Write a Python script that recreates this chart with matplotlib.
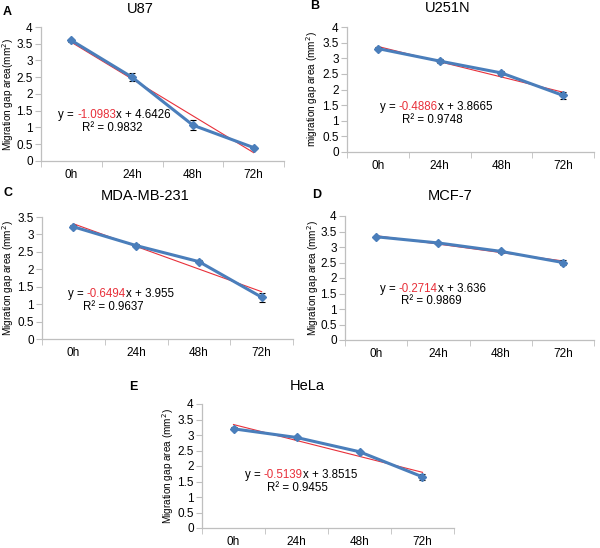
import matplotlib
matplotlib.use("Agg")
import matplotlib.pyplot as plt
import matplotlib.transforms as mtransforms
import numpy as np

plt.rcParams["font.family"] = ["Liberation Sans", "DejaVu Sans"]

# ---------------------------------------------------------------------------
# Data
# ---------------------------------------------------------------------------

times = ["0h", "24h", "48h", "72h"]

u87_mean = [3.60, 2.50, 1.07, 0.40]
u87_err = [0.04, 0.12, 0.15, 0.03]

u251_mean = [3.31, 2.91, 2.53, 1.81]
u251_err = [0.05, 0.06, 0.07, 0.10]

mda_mean = [3.22, 2.68, 2.22, 1.20]
mda_err = [0.04, 0.04, 0.04, 0.13]

mcf_mean = [3.33, 3.13, 2.86, 2.50]
mcf_err = [0.04, 0.04, 0.05, 0.09]

hela_mean = [3.20, 2.92, 2.46, 1.65]
hela_err = [0.05, 0.04, 0.04, 0.10]

# trendline fits as printed on the chart (slope, intercept, R^2)
u87_fit = ("-1.0983", "4.6426", "0.9832")
u251_fit = ("-0.4886", "3.8665", "0.9748")
mda_fit = ("-0.6494", "3.955", "0.9637")
mcf_fit = ("-0.2714", "3.636", "0.9869")
hela_fit = ("-0.5139", "3.8515", "0.9455")

BLUE = "#4A7EBB"
RED = "#E8303A"
AXIS = "#BFBFBF"

W, H = 600, 548
fig = plt.figure(figsize=(W / 100, H / 100), dpi=100)


def px_axes(left, right, top, bottom):
    return fig.add_axes([left / W, 1 - bottom / H, (right - left) / W, (bottom - top) / H])


def panel(box, letter, letter_xy, title, title_xy, mean, err, fit, ylim,
          ylabel, ylabel_x, eq_xy, r2_dx):
    ax = px_axes(*box)
    x = np.arange(len(times))
    slope, icpt, r2 = fit
    trend = float(slope) * (x + 1) + float(icpt)
    ax.plot(x, trend, color=RED, linewidth=0.8, zorder=2)
    ax.errorbar(x, mean, yerr=err, color=BLUE, linewidth=2.2, marker="D",
                markersize=4.5, ecolor="black", elinewidth=0.8, capsize=2.5,
                capthick=0.8, zorder=3)

    ax.set_xlim(-0.5, 3.5)
    ax.set_ylim(*ylim)
    yt = np.arange(0, ylim[1] + 0.01, 0.5)
    ax.set_yticks(yt)
    ax.set_yticklabels([f"{v:g}" for v in yt])
    ax.set_xticks(x)
    ax.set_xticklabels(times)
    ax.set_xticks(np.arange(-0.5, 3.6, 1), minor=True)
    ax.tick_params(axis="x", which="major", length=0, pad=6, labelsize=8.5)
    ax.tick_params(axis="x", which="minor", length=4, color=AXIS, direction="out")
    ax.tick_params(axis="y", length=4, color=AXIS, labelsize=8.5, pad=2)
    for s in ["top", "right"]:
        ax.spines[s].set_visible(False)
    for s in ["left", "bottom"]:
        ax.spines[s].set_color(AXIS)
        ax.spines[s].set_linewidth(0.9)
    ax.set_ylabel(ylabel, fontsize=7.2, va="center")
    blend = mtransforms.blended_transform_factory(fig.transFigure, ax.transAxes)
    ax.yaxis.set_label_coords(ylabel_x / W, 0.5, transform=blend)

    fig.text(title_xy[0] / W, 1 - title_xy[1] / H, title, fontsize=10.5,
             ha="center", va="center")

    # equation with coloured slope
    t1 = ax.text(eq_xy[0], eq_xy[1], "y = ", fontsize=8.3, ha="left",
                 va="baseline")
    t2 = ax.annotate(slope, xycoords=t1, xy=(1, 0), va="bottom",
                     fontsize=8.3, color=RED)
    ax.annotate(f"x + {icpt}", xycoords=t2, xy=(1, 0), va="bottom", fontsize=8.3)
    ax.annotate(f"R² = {r2}", xycoords=t1, xy=(0, 0), xytext=(r2_dx, -9),
                textcoords="offset points", va="bottom", fontsize=8.3)

    fig.text(letter_xy[0] / W, 1 - letter_xy[1] / H, letter, fontsize=9,
             fontweight="bold", ha="left", va="center")
    return ax


panel((41, 284, 27, 161), "A", (3, 12), "U87", (140, 9), u87_mean, u87_err,
      u87_fit, (0, 4), "Migration gap area(mm$^2$)", 8, (-0.22, 1.28), 17)
panel((347, 594, 27, 152), "B", (310, 6), "U251N", (448, 8), u251_mean, u251_err,
      u251_fit, (0, 4), "migration gap area (mm$^2$)", 312, (0.03, 1.34), 16)
panel((42, 293, 217, 339), "C", (3, 193), "MDA-MB-231", (145, 196), mda_mean,
      mda_err, mda_fit, (0, 3.5), "Migration gap area (mm$^2$)", 8,
      (-0.09, 1.2), 11)
panel((345, 594, 216, 340), "D", (312, 195), "MCF-7", (450, 196), mcf_mean,
      mcf_err, mcf_fit, (0, 4), "Migration gap area (mm$^2$)", 313,
      (0.06, 1.55), 15)
panel((202, 454, 404, 528), "E", (129, 387), "HeLa", (307, 386), hela_mean,
      hela_err, hela_fit, (0, 4), "Migration gap area (mm$^2$)", 168,
      (0.18, 1.61), 16)

fig.savefig("out.png", dpi=100, facecolor="white")
